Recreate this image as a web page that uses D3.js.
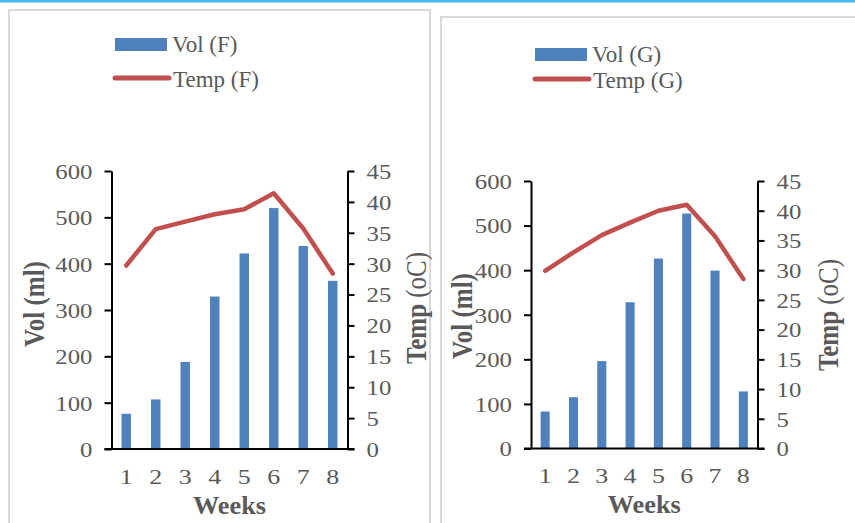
<!DOCTYPE html>
<html>
<head>
<meta charset="utf-8">
<script src="https://cdn.jsdelivr.net/npm/d3@7"></script>
<style>
  html, body { margin: 0; padding: 0; background: #fff; }
  svg { display: block; }
  svg text { font-family: "Liberation Serif", "Times New Roman", serif !important; fill: #595959; }
</style>
</head>
<body>
<div id="chart"></div>
<script>
const weeks = [1, 2, 3, 4, 5, 6, 7, 8];
const volF = [76, 107, 188, 329, 422, 520, 438, 363];
const tempF = [29.7, 35.6, 36.8, 38.0, 38.8, 41.4, 35.7, 28.4];
const volG = [83, 115, 196, 328, 426, 527, 399, 128];
const tempG = [29.9, 33.0, 35.9, 38.0, 40.0, 41.0, 35.7, 28.5];
const volTicks = [0, 100, 200, 300, 400, 500, 600];
const tempTicks = [0, 5, 10, 15, 20, 25, 30, 35, 40, 45];

const W = 855, H = 523;
const BAR = "#4f81bd", LINE = "#c0504d", SX = 1.18;

const svg = d3.select("#chart").append("svg")
  .attr("width", W).attr("height", H);

// top accent line and panel frames
svg.append("rect").attr("x", 0).attr("y", 0).attr("width", W).attr("height", 2.5).attr("fill", "#45b8f2");
svg.append("rect").attr("x", 9).attr("y", 10).attr("width", 421).attr("height", 530)
  .attr("fill", "none").attr("stroke", "#d9d9d9").attr("stroke-width", 2);
svg.append("rect").attr("x", 441).attr("y", 17).attr("width", 430).attr("height", 530)
  .attr("fill", "none").attr("stroke", "#d9d9d9").attr("stroke-width", 2);

const panels = [
  { tag: "F", vol: volF, temp: tempF, x0: 111.5, x1: 347.5, yTop: 171, yBot: 449,
    legX: 114, legY: 38, legGap: 40, labY: 484, weeksY: 514, volX: 34, volY: 304, tempX: 416, tempY: 308 },
  { tag: "G", vol: volG, temp: tempG, x0: 531, x1: 757.5, yTop: 181, yBot: 448.5,
    legX: 534, legY: 48, legGap: 31, labY: 483, weeksY: 513, volX: 462, volY: 316, tempX: 828, tempY: 315 }
];

panels.forEach(p => {
  const g = svg.append("g");

  const x = d3.scaleBand().domain(weeks).range([p.x0, p.x1]).paddingInner(0.68).paddingOuter(0.34);
  const yVol = d3.scaleLinear().domain([0, 600]).range([p.yBot, p.yTop]);
  const yTemp = d3.scaleLinear().domain([0, 45]).range([p.yBot, p.yTop]);

  // bars
  g.selectAll(null).data(p.vol).enter().append("rect")
    .attr("x", (d, i) => x(weeks[i]))
    .attr("width", x.bandwidth())
    .attr("y", d => yVol(d))
    .attr("height", d => p.yBot - yVol(d))
    .attr("fill", BAR);

  // left axis
  const axL = g.append("g").attr("transform", `translate(${p.x0},0)`)
    .call(d3.axisLeft(yVol).tickValues(volTicks).tickSize(7).tickSizeOuter(0));
  // right axis
  const axR = g.append("g").attr("transform", `translate(${p.x1},0)`)
    .call(d3.axisRight(yTemp).tickValues(tempTicks).tickSize(7).tickSizeOuter(0));

  [axL, axR].forEach((ax, k) => {
    ax.attr("font-family", null).attr("font-size", null);
    ax.select(".domain").attr("stroke", "#000").attr("stroke-width", 2);
    ax.selectAll(".tick line").attr("stroke", "#000").attr("stroke-width", 2);
    ax.selectAll(".tick text")
      .attr("x", 0).attr("dy", "0.35em")
      .attr("fill", "#595959")
      .style("font-size", "21px")
      .attr("text-anchor", k === 0 ? "end" : "start")
      .attr("transform", `translate(${k === 0 ? -19 : 19},0) scale(${SX},1)`);
  });

  // baseline
  g.append("line").attr("x1", p.x0 - 7).attr("x2", p.x1 + 7)
    .attr("y1", p.yBot).attr("y2", p.yBot)
    .attr("stroke", "#000").attr("stroke-width", 2);

  // x labels
  g.selectAll(null).data(weeks).enter().append("text")
    .attr("transform", d => `translate(${x(d) + x.bandwidth() / 2},${p.labY}) scale(${SX},1)`)
    .attr("text-anchor", "middle")
    .style("font-size", "22px")
    .text(d => d);

  // temperature line
  const line = d3.line()
    .x((d, i) => x(weeks[i]) + x.bandwidth() / 2)
    .y(d => yTemp(d));
  g.append("path").datum(p.temp)
    .attr("fill", "none").attr("stroke", LINE).attr("stroke-width", 4.5)
    .attr("stroke-linejoin", "round").attr("stroke-linecap", "round")
    .attr("d", line);

  // axis titles
  g.append("text")
    .attr("transform", `translate(${(p.x0 + p.x1) / 2},${p.weeksY}) scale(1.05,1)`)
    .attr("text-anchor", "middle").style("font-size", "25px").attr("font-weight", "bold")
    .text("Weeks");
  g.append("text")
    .attr("transform", `translate(${p.volX},${p.volY}) scale(${SX},1) rotate(-90)`)
    .attr("text-anchor", "middle").attr("dy", "0.35em").style("font-size", "25px").attr("font-weight", "bold")
    .text("Vol (ml)");
  const tt = g.append("text")
    .attr("transform", `translate(${p.tempX},${p.tempY}) scale(${SX},1) rotate(-90)`)
    .attr("text-anchor", "middle").attr("dy", "0.35em").style("font-size", "25px");
  tt.append("tspan").attr("font-weight", "bold").text("Temp");
  tt.append("tspan").text(" (oC)");

  // legend
  const lg = g.append("g");
  lg.append("rect").attr("x", p.legX + 1).attr("y", p.legY).attr("width", 52).attr("height", 13).attr("fill", BAR);
  lg.append("text").attr("x", p.legX + 58).attr("y", p.legY + 14)
    .style("font-size", "23px").text(`Vol (${p.tag})`);
  lg.append("line").attr("x1", p.legX + 1).attr("x2", p.legX + 55)
    .attr("y1", p.legY + p.legGap).attr("y2", p.legY + p.legGap)
    .attr("stroke", LINE).attr("stroke-width", 5).attr("stroke-linecap", "round");
  lg.append("text").attr("x", p.legX + 59).attr("y", p.legY + p.legGap + 9)
    .style("font-size", "23px").text(`Temp (${p.tag})`);
});
</script>
</body>
</html>
